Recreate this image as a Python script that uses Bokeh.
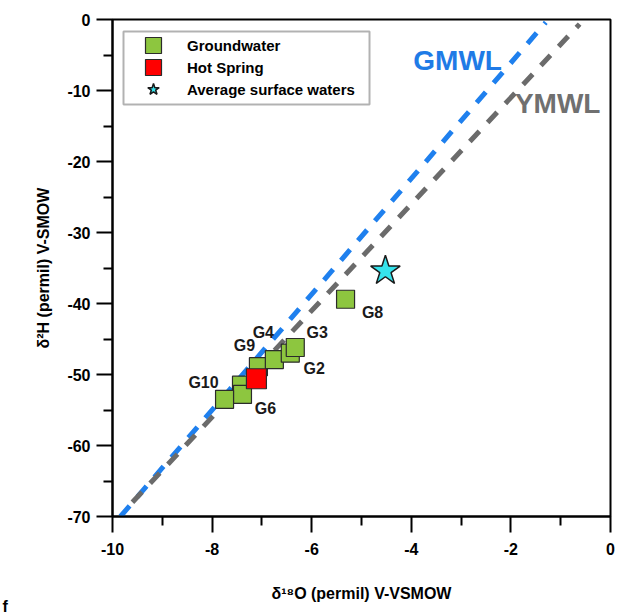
from bokeh.plotting import figure
from bokeh.models import (Range1d, ColumnDataSource, LabelSet, Label, Legend,
                          LegendItem, FixedTicker, BoxAnnotation, Title)
from bokeh.core.properties import value
from bokeh.embed import file_html
from bokeh.resources import INLINE

# Groundwater samples: d18O and d2H (permil, V-SMOW)
gw_o = [-7.41, -7.39, -7.75, -7.07, -6.75, -6.43, -6.33, -5.32]
gw_h = [-51.5, -52.8, -53.5, -48.9, -47.9, -47.0, -46.2, -39.4]
gw_names = ["", "G6", "G10", "G9", "G4", "G2", "G3", "G8"]

# Hot spring sample
spring_o = [-7.11]
spring_h = [-50.6]

# Average of surface waters
surface_o = [-4.52]
surface_h = [-35.4]

# Meteoric water lines (end points)
gmwl_o = [-9.84, -1.30]
gmwl_h = [-70.0, -0.40]
ymwl_o = [-9.60, -0.62]
ymwl_h = [-68.0, -0.65]

x_ticks = [-10, -8, -6, -4, -2, 0]
x_minor = [-9, -7, -5, -3, -1]
y_ticks = [-70, -60, -50, -40, -30, -20, -10, 0]
y_minor = [-65, -55, -45, -35, -25, -15, -5]

FONT = "Liberation Sans"

p = figure(width=627, height=616, output_backend="svg", toolbar_location=None,
           x_range=Range1d(-10, 0), y_range=Range1d(-70, 0),
           min_border_left=112, min_border_right=17, min_border_top=19,
           min_border_bottom=100, background_fill_color="white",
           border_fill_color="white")
p.grid.visible = False
p.outline_line_color = "black"
p.outline_line_width = 2

for ax in (p.xaxis[0], p.yaxis[0]):
    ax.axis_line_width = 2
    ax.major_tick_line_width = 2
    ax.minor_tick_line_width = 2
    ax.major_tick_in = 0
    ax.minor_tick_in = 0
    ax.major_tick_out = 16
    ax.minor_tick_out = 9
    ax.major_label_text_font = FONT
    ax.major_label_text_font_style = "bold"
    ax.major_label_text_font_size = "16px"
    ax.major_label_text_color = "black"
    ax.axis_label_text_font = FONT
    ax.axis_label_text_font_style = "bold"
    ax.axis_label_text_font_size = "16px"
    ax.axis_label_text_color = "black"

p.xaxis.ticker = FixedTicker(ticks=x_ticks, minor_ticks=x_minor)
p.yaxis.ticker = FixedTicker(ticks=y_ticks, minor_ticks=y_minor)
p.xaxis.major_label_overrides = {t: str(t) for t in x_ticks}
p.yaxis.major_label_overrides = {t: str(t) for t in y_ticks}
p.xaxis.major_label_standoff = 10
p.yaxis.major_label_standoff = 6
p.xaxis.axis_label = "\u03b4\u00b9\u2078O (permil) V-VSMOW"
p.yaxis.axis_label = "\u03b4\u00b2H (permil) V-SMOW"
p.xaxis.axis_label_standoff = 27
p.yaxis.axis_label_standoff = 12

# Water lines
p.line(gmwl_o, gmwl_h, line_color="#1f80ee", line_width=5, line_dash="14 12")
p.line(ymwl_o, ymwl_h, line_color="#6b6b6b", line_width=5, line_dash="14 12")

p.add_layout(Label(x=-3.07, y=-5.8, text="GMWL", text_font=FONT,
                   text_font_style="bold", text_font_size="28px",
                   text_color="#1f7be6", text_align="center",
                   text_baseline="middle"))
p.add_layout(Label(x=-1.06, y=-11.8, text="YMWL", text_font=FONT,
                   text_font_style="bold", text_font_size="28px",
                   text_color="#707070", text_align="center",
                   text_baseline="middle"))

# Samples
gw_src = ColumnDataSource(dict(x=gw_o, y=gw_h, name=gw_names,
                               dx=[0, 23, -21, -14, -11, 24, 22, 27],
                               dy=[0, -14, 17, 21, 27, -15, 15, -13]))
gw_r = p.rect("x", "y", width=18, height=18, width_units="screen",
              height_units="screen", source=gw_src, fill_color="#8dc63f",
              line_color="#2b2b2b", line_width=1.2)
sp_r = p.rect(spring_o, spring_h, width=20, height=20, width_units="screen",
              height_units="screen", fill_color="#ff0000",
              line_color="#2b2b2b", line_width=1.2)
sf_r = p.scatter(surface_o, surface_h, marker="star", size=31,
                 fill_color="#35e3ec", line_color="#1a1a1a", line_width=1.5)

p.add_layout(LabelSet(x="x", y="y", text="name", source=gw_src,
                      x_offset="dx", y_offset="dy", text_font=value(FONT),
                      text_font_style="bold", text_font_size="16px",
                      text_color="#1a1a1a", text_align="center",
                      text_baseline="middle"))

# Legend frame and entries
p.add_layout(BoxAnnotation(left=-9.779, right=-4.839, top=-1.69, bottom=-11.97,
                           fill_color="white", fill_alpha=1.0,
                           line_color="black", line_width=2))
legend_style = dict(padding=0, spacing=2, margin=0,
                    label_text_font=FONT, label_text_font_style="bold",
                    label_text_font_size="15px", label_text_color="black",
                    border_line_color=None, background_fill_alpha=0)
p.add_layout(Legend(items=[LegendItem(label="Groundwater", renderers=[gw_r]),
                           LegendItem(label="Hot Spring", renderers=[sp_r])],
                    location=(31, 439), glyph_width=20, glyph_height=20,
                    label_standoff=24, **legend_style))
p.add_layout(Legend(items=[LegendItem(label="Average surface waters",
                                      renderers=[sf_r])],
                    location=(26, 412), glyph_width=30, glyph_height=30,
                    label_standoff=19, **legend_style))

# Panel letter in the lower-left corner of the page
p.add_layout(Title(text="f", align="left", offset=-110, standoff=-18,
                   vertical_align="bottom", text_font=FONT,
                   text_font_style="bold", text_font_size="16px",
                   text_color="black"), "below")

open("out.html", "w").write(file_html(p, INLINE))
